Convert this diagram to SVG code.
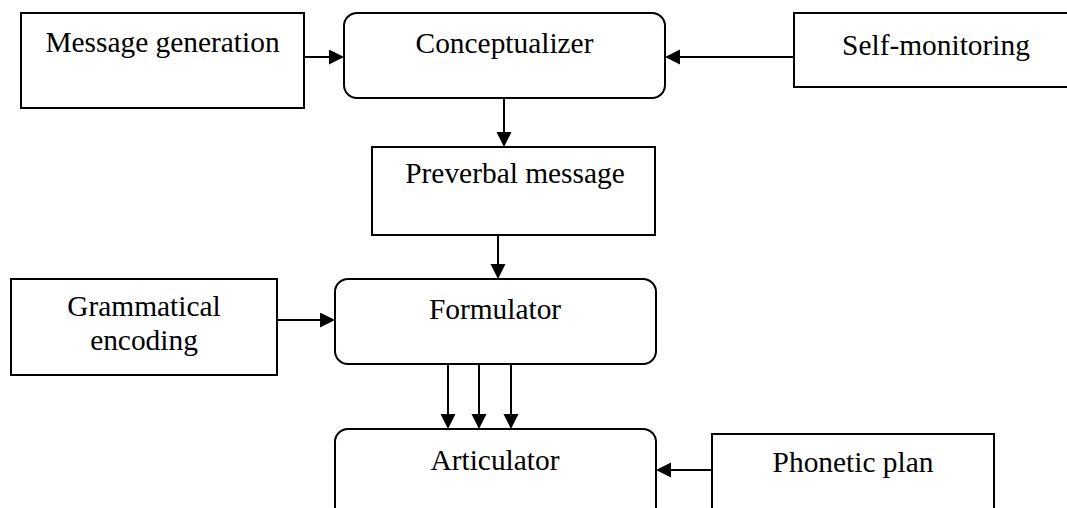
<svg xmlns="http://www.w3.org/2000/svg" width="1067" height="508" viewBox="0 0 1067 508">
  <style>
    .box { fill: #ffffff; stroke: #000000; stroke-width: 2; }
    .lbl { font-family: "Liberation Serif", "Times New Roman", serif; font-size: 29.4px; fill: #000000; text-anchor: middle; }
    .conn { stroke: #000000; stroke-width: 2; fill: none; marker-end: url(#head); }
  </style>
  <defs>
    <marker id="head" markerUnits="userSpaceOnUse" markerWidth="16" markerHeight="16" refX="10" refY="7.5" orient="auto">
      <path d="M0,0 L15,7.5 L0,15 Z" fill="#000000"/>
    </marker>
  </defs>
  <rect width="1067" height="508" fill="#ffffff"/>

  <g id="message-generation">
    <rect class="box" x="21" y="13" width="283" height="95"/>
    <text class="lbl" x="162.5" y="52">Message generation</text>
  </g>

  <g id="conceptualizer">
    <rect class="box" x="344" y="13" width="321" height="85" rx="13" ry="13"/>
    <text class="lbl" x="504.5" y="53">Conceptualizer</text>
  </g>

  <g id="self-monitoring">
    <rect class="box" x="794" y="13" width="290" height="74"/>
    <text class="lbl" x="936" y="55">Self-monitoring</text>
  </g>

  <g id="preverbal-message">
    <rect class="box" x="372" y="147" width="283" height="88"/>
    <text class="lbl" x="515" y="183">Preverbal message</text>
  </g>

  <g id="grammatical-encoding">
    <rect class="box" x="11" y="279" width="266" height="96"/>
    <text class="lbl" x="144" y="316">Grammatical</text>
    <text class="lbl" x="144" y="350">encoding</text>
  </g>

  <g id="formulator">
    <rect class="box" x="335" y="279" width="321" height="85" rx="13" ry="13"/>
    <text class="lbl" x="495" y="319">Formulator</text>
  </g>

  <g id="articulator">
    <rect class="box" x="335" y="429" width="321" height="110" rx="13" ry="13"/>
    <text class="lbl" x="495" y="470">Articulator</text>
  </g>

  <g id="phonetic-plan">
    <rect class="box" x="712" y="434" width="282" height="110"/>
    <text class="lbl" x="853" y="472">Phonetic plan</text>
  </g>

  <g id="connectors">
    <line class="conn" x1="304" y1="57" x2="339" y2="57"/>
    <line class="conn" x1="794" y1="57" x2="670" y2="57"/>
    <line class="conn" x1="504" y1="98" x2="504" y2="142"/>
    <line class="conn" x1="498" y1="235" x2="498" y2="274"/>
    <line class="conn" x1="277" y1="320" x2="330" y2="320"/>
    <line class="conn" x1="448" y1="364" x2="448" y2="424"/>
    <line class="conn" x1="479" y1="364" x2="479" y2="424"/>
    <line class="conn" x1="511" y1="364" x2="511" y2="424"/>
    <line class="conn" x1="712" y1="470" x2="661" y2="470"/>
  </g>
</svg>
